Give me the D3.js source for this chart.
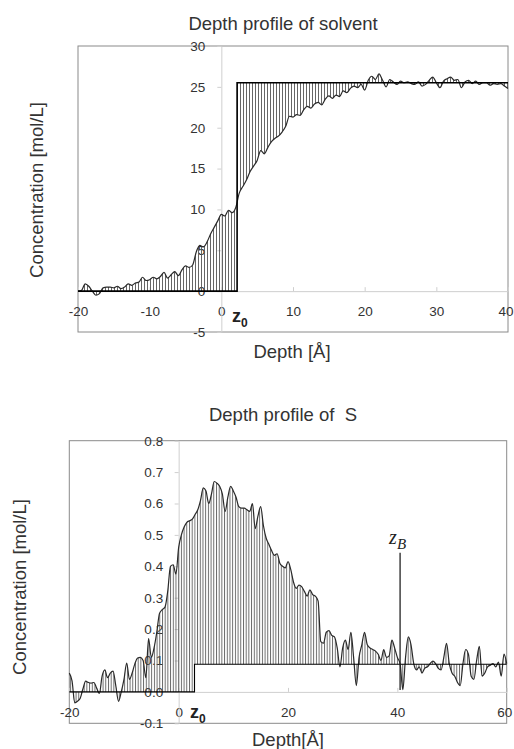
<!DOCTYPE html>
<html>
<head>
<meta charset="utf-8">
<script src="https://cdn.jsdelivr.net/npm/d3@7"></script>
<style>
  body { margin: 0; background: #fff; }
  svg { display: block; font-family: "Liberation Sans", Arial, sans-serif; }
  .tick text { fill: #333; font-size: 13.5px; }
</style>
</head>
<body>
<svg width="514" height="749"></svg>
<script>
// depth [Å], concentration [mol/L]
const solvent = [
  [-20,0],[-19.5,0.1],[-19,0.9],[-18.5,0.6],[-18,0],[-17.5,-0.5],[-17,-0.3],[-16.5,0.4],[-16,0.5],[-15.5,0.5],
  [-15,0.4],[-14.5,0.6],[-14,0.3],[-13.5,0.5],[-13,0.9],[-12.5,0.7],[-12,1.0],[-11.5,1.1],[-11,1.7],[-10.5,1.3],
  [-10,1.4],[-9.5,1.7],[-9,1.5],[-8.5,1.8],[-8,2.3],[-7.5,1.6],[-7,2.0],[-6.5,2.4],[-6,1.9],[-5.5,2.6],
  [-5,3.1],[-4.5,2.9],[-4,3.2],[-3.5,4.8],[-3,5.6],[-2.5,5.4],[-2,6.0],[-1.5,7.0],[-1,7.8],[-0.5,8.6],
  [0,9.4],[0.5,9.2],[1,9.9],[1.5,9.6],[2,10.2],[2.5,12.0],[3,12.8],[3.5,13.6],[4,14.6],[4.5,15.3],
  [5,16.0],[5.5,17.2],[6,16.8],[6.5,17.6],[7,18.3],[7.5,18.7],[8,19.0],[8.5,19.5],[9,20.2],[9.5,21.4],
  [10,21.3],[10.5,21.6],[11,21.5],[11.5,22.2],[12,22.6],[12.5,22.4],[13,22.9],[13.5,23.1],[14,22.8],[14.5,23.5],
  [15,23.9],[15.5,23.6],[16,24.0],[16.5,23.8],[17,24.5],[17.5,24.3],[18,24.8],[18.5,25.1],[19,24.9],[19.5,25.3],
  [20,24.6],[20.5,25.8],[21,26.3],[21.5,25.9],[22,26.6],[22.5,25.8],[23,25.0],[23.5,25.9],[24,25.6],[24.5,25.3],
  [25,25.7],[25.5,25.5],[26,25.6],[26.5,25.4],[27,25.3],[27.5,25.6],[28,25.1],[28.5,25.3],[29,25.8],[29.5,26.2],
  [30,25.5],[30.5,24.9],[31,25.7],[31.5,26.0],[32,26.2],[32.5,25.8],[33,25.9],[33.5,24.9],[34,25.6],[34.5,25.8],
  [35,25.4],[35.5,25.7],[36,25.3],[36.5,25.5],[37,25.5],[37.5,25.2],[38,25.4],[38.5,25.3],[39,25.4],[39.5,25.1],
  [40,24.8]
];

const sulfur = [
  [-20,0.06],[-19.5,0.035],[-19,-0.035],[-18.5,-0.03],[-18,-0.02],[-17.5,0.01],[-17,0.034],[-16.5,0.03],[-16,0.028],[-15.5,0.03],
  [-15,0.012],[-14.5,-0.005],[-14,0.05],[-13.5,0.07],[-13,0.045],[-12.5,0.06],[-12,0.066],[-11.5,0.02],[-11,-0.03],[-10.5,0.0],
  [-10,0.04],[-9.5,0.092],[-9,0.04],[-8.5,0.06],[-8,0.09],[-7.5,0.108],[-7,0.11],[-6.5,0.1],[-6,0.045],[-5.5,0.17],
  [-5,0.11],[-4.5,0.14],[-4,0.19],[-3.5,0.25],[-3,0.262],[-2.5,0.27],[-2,0.32],[-1.5,0.40],[-1,0.405],[-0.5,0.375],
  [0,0.46],[0.5,0.50],[1,0.525],[1.5,0.54],[2,0.545],[2.5,0.55],[3,0.565],[3.5,0.58],[4,0.61],[4.5,0.65],
  [5,0.64],[5.5,0.60],[6,0.63],[6.5,0.67],[7,0.665],[7.5,0.655],[8,0.63],[8.5,0.575],[9,0.62],[9.5,0.655],
  [10,0.64],[10.5,0.62],[11,0.59],[11.5,0.585],[12,0.585],[12.5,0.58],[13,0.575],[13.5,0.60],[14,0.52],[14.5,0.56],
  [15,0.59],[15.5,0.53],[16,0.49],[16.5,0.47],[17,0.45],[17.5,0.435],[18,0.44],[18.5,0.41],[19,0.40],[19.5,0.395],
  [20,0.415],[20.5,0.39],[21,0.35],[21.5,0.33],[22,0.34],[22.5,0.335],[23,0.32],[23.5,0.305],[24,0.325],[24.5,0.31],
  [25,0.305],[25.5,0.29],[26,0.16],[26.5,0.155],[27,0.19],[27.5,0.195],[28,0.18],[28.5,0.175],[29,0.14],[29.5,0.08],
  [30,0.14],[30.5,0.165],[31,0.135],[31.5,0.19],[32,0.11],[32.5,0.02],[33,0.11],[33.5,0.15],[34,0.19],[34.5,0.15],
  [35,0.14],[35.5,0.135],[36,0.13],[36.5,0.12],[37,0.10],[37.5,0.135],[38,0.11],[38.5,0.115],[39,0.165],[39.5,0.14],
  [40,0.11],[40.5,0.09],[41,0.007],[41.5,0.11],[42,0.175],[42.5,0.15],[43,0.09],[43.5,0.07],[44,0.08],[44.5,0.06],
  [45,0.075],[45.5,0.08],[46,0.09],[46.5,0.098],[47,0.09],[47.5,0.075],[48,0.07],[48.5,0.11],[49,0.155],[49.5,0.09],
  [50,0.06],[50.5,0.05],[51,0.03],[51.5,0.02],[52,0.09],[52.5,0.135],[53,0.12],[53.5,0.05],[54,0.04],[54.5,0.1],
  [55,0.145],[55.5,0.05],[56,0.06],[56.5,0.08],[57,0.085],[57.5,0.09],[58,0.08],[58.5,0.095],[59,0.05],[59.5,0.12],
  [60,0.09]
];

// Gibbs step (z0, bulk level) and the z_B marker
const solventStep = { z0: 2.2, level: 25.5 };
const sulfurStep = { z0: 2.9, level: 0.088 };
const zB = { x: 40.5, top: 0.443, bottom: 0.006 };

const solventXTicks = [-20, -10, 0, 10, 20, 30, 40];
const solventYTicks = [-5, 0, 5, 10, 15, 20, 25, 30];
const sulfurXTicks = [-20, 0, 20, 40, 60];
const sulfurYTicks = [-0.1, 0, 0.1, 0.2, 0.3, 0.4, 0.5, 0.6, 0.7, 0.8];

const svg = d3.select("svg");

function drawPanel(p) {
    const x = d3.scaleLinear().domain(p.xDomain).range(p.xRange);
    const y = d3.scaleLinear().domain(p.yDomain).range(p.yRange);
    const g = svg.append("g");

    // hatch pattern
    const defs = svg.append("defs");
    defs.append("pattern")
        .attr("id", p.id + "-hatch")
        .attr("patternUnits", "userSpaceOnUse")
        .attr("width", p.hatch).attr("height", 10)
      .append("line")
        .attr("x1", 0.5).attr("x2", 0.5).attr("y1", 0).attr("y2", 10)
        .attr("stroke", "#555").attr("stroke-width", 0.9);

    defs.append("clipPath").attr("id", p.id + "-left")
      .append("rect")
        .attr("x", x(p.xDomain[0])).attr("y", y(p.yDomain[1]))
        .attr("width", x(p.step.z0) - x(p.xDomain[0]))
        .attr("height", y(p.yDomain[0]) - y(p.yDomain[1]));
    defs.append("clipPath").attr("id", p.id + "-right")
      .append("rect")
        .attr("x", x(p.step.z0)).attr("y", y(p.yDomain[1]))
        .attr("width", x(p.xDomain[1]) - x(p.step.z0))
        .attr("height", y(p.yDomain[0]) - y(p.yDomain[1]));

    // plot frame
    g.append("rect")
        .attr("x", p.xRange[0]).attr("y", p.yRange[1])
        .attr("width", p.xRange[1] - p.xRange[0])
        .attr("height", p.yRange[0] - p.yRange[1])
        .attr("fill", "none").attr("stroke", "#8a8a8a");

    // axes through zero
    const xAxis = g.append("g")
        .attr("transform", `translate(0,${y(0)})`)
        .call(d3.axisBottom(x).tickValues(p.xTicks).tickSizeInner(-4).tickSizeOuter(0)
            .tickPadding(21).tickFormat(d => String(d)));
    const yAxis = g.append("g")
        .attr("transform", `translate(${x(0)},0)`)
        .call(d3.axisLeft(y).tickValues(p.yTicks).tickSizeInner(4).tickSizeOuter(0)
            .tickPadding(p.yPad).tickFormat(p.yFormat));
    [xAxis, yAxis].forEach(a => {
        a.select(".domain").attr("stroke", "#cfcfcf");
        a.selectAll(".tick line").attr("stroke", "#cfcfcf");
        a.selectAll(".tick text").attr("font-family", null).attr("font-size", null);
    });
    xAxis.selectAll(".tick text").attr("dy", "0.32em");
    // last x label sits on the right frame edge, keep it inside the page
    xAxis.selectAll(".tick text")
        .filter(d => d === p.xDomain[1])
        .attr("text-anchor", "end").attr("dx", 5);

    const line = d3.line().x(d => x(d[0])).y(d => y(d[1])).curve(d3.curveMonotoneX);

    // hatched excess: left of z0 against 0, right of z0 against bulk level
    g.append("path")
        .datum(p.data)
        .attr("clip-path", `url(#${p.id}-left)`)
        .attr("fill", `url(#${p.id}-hatch)`)
        .attr("d", d3.area().x(d => x(d[0])).y0(y(0)).y1(d => y(d[1])).curve(d3.curveMonotoneX));
    g.append("path")
        .datum(p.data)
        .attr("clip-path", `url(#${p.id}-right)`)
        .attr("fill", `url(#${p.id}-hatch)`)
        .attr("d", d3.area().x(d => x(d[0])).y0(y(p.step.level)).y1(d => y(d[1])).curve(d3.curveMonotoneX));

    // profile
    g.append("path")
        .datum(p.data)
        .attr("fill", "none")
        .attr("stroke", "#2a2a2a")
        .attr("stroke-width", 1.2)
        .attr("d", line);

    // dividing-surface step
    const stepPts = [[p.xDomain[0], 0], [p.step.z0, 0], [p.step.z0, p.step.level], [p.xDomain[1], p.step.level]];
    g.append("path")
        .datum(stepPts)
        .attr("fill", "none")
        .attr("stroke", "#000")
        .attr("stroke-width", p.stepWidth)
        .attr("d", d3.line().x(d => x(d[0])).y(d => y(d[1])));

    // z0 label
    const z0 = g.append("text")
        .attr("x", x(p.step.z0) + p.z0dx).attr("y", p.z0y)
        .attr("font-weight", "bold").attr("font-size", 18).attr("fill", "#222");
    z0.append("tspan").text("z");
    z0.append("tspan").attr("dy", 5).attr("font-size", 12).text("0");

    // titles
    g.append("text")
        .attr("x", 283).attr("y", p.titleY)
        .attr("text-anchor", "middle").attr("font-size", 18.5).attr("fill", "#333")
        .style("white-space", "pre")
        .text(p.title);
    g.append("text")
        .attr("x", p.xTitleX).attr("y", p.xTitleY)
        .attr("text-anchor", "middle").attr("font-size", 18.5).attr("fill", "#333")
        .text(p.xTitle);
    g.append("text")
        .attr("transform", `translate(${p.yTitleX},${p.yTitleY}) rotate(-90)`)
        .attr("text-anchor", "middle").attr("font-size", 18.5).attr("fill", "#333")
        .text("Concentration [mol/L]");

    return { x, y, g };
}

drawPanel({
    id: "solv", data: solvent, step: solventStep,
    xDomain: [-20, 40], xRange: [78, 508],
    yDomain: [-5, 30], yRange: [332, 46],
    xTicks: solventXTicks, yTicks: solventYTicks,
    yFormat: d => String(d), yPad: 12,
    hatch: 3, stepWidth: 1.6,
    z0dx: -5, z0y: 322,
    title: "Depth profile of solvent", titleY: 30,
    xTitle: "Depth [Å]", xTitleX: 292, xTitleY: 358,
    yTitleX: 43, yTitleY: 190
});

const s = drawPanel({
    id: "sulf", data: sulfur, step: sulfurStep,
    xDomain: [-20, 60], xRange: [69.3, 506.7],
    yDomain: [-0.1, 0.8], yRange: [723.3, 440.7],
    xTicks: sulfurXTicks, yTicks: sulfurYTicks,
    yFormat: d => d.toFixed(1), yPad: 11.5,
    hatch: 2.7, stepWidth: 1.1,
    z0dx: -4.5, z0y: 718,
    title: "Depth profile of  S", titleY: 421,
    xTitle: "Depth[Å]", xTitleX: 288, xTitleY: 746,
    yTitleX: 26, yTitleY: 587
});

// z_B marker
s.g.append("line")
    .attr("x1", s.x(zB.x)).attr("x2", s.x(zB.x))
    .attr("y1", s.y(zB.top)).attr("y2", s.y(zB.bottom))
    .attr("stroke", "#222").attr("stroke-width", 1.3);
const zBlabel = s.g.append("text")
    .attr("x", s.x(zB.x) - 11).attr("y", s.y(zB.top) - 9)
    .attr("font-family", "'Liberation Serif', 'Times New Roman', serif")
    .attr("font-style", "italic").attr("font-size", 20).attr("fill", "#222");
zBlabel.append("tspan").text("z");
zBlabel.append("tspan").attr("dy", 5).attr("font-size", 15).text("B");
</script>
</body>
</html>
